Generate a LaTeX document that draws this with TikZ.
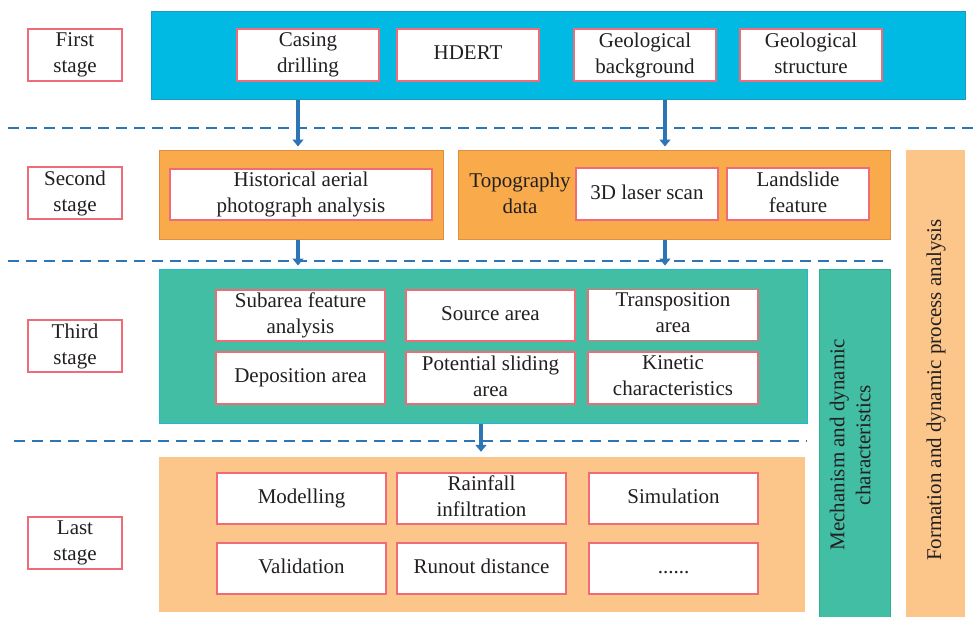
\documentclass[tikz,border=0pt]{standalone}
\usepackage{fontspec}
\setmainfont{Liberation Serif}
\usetikzlibrary{arrows.meta}
\definecolor{bluefill}{HTML}{00BAE4}
\definecolor{blueline}{HTML}{1A9CC0}
\definecolor{orfill}{HTML}{F9AB4C}
\definecolor{orline}{HTML}{DE9040}
\definecolor{tealfill}{HTML}{42BEA4}
\definecolor{tealline}{HTML}{1FB7DA}
\definecolor{tealbar}{HTML}{2AAF8F}
\definecolor{ltor}{HTML}{FCC58A}
\definecolor{pk}{HTML}{EF6B78}
\definecolor{arrc}{HTML}{2E75B6}
\definecolor{txt}{HTML}{231F20}
\newcommand{\mystrut}{\rule[-4pt]{0pt}{17pt}}
\tikzset{
  every node/.style={text=txt, font=\fontsize{21}{26}\selectfont, inner sep=0pt},
  sfix/.style={execute at begin node=\mystrut, execute at end node=\mystrut},
  stg/.style={draw=pk, fill=white, line width=1.2pt, minimum width=94pt, minimum height=52pt, align=center, sfix},
  ib/.style={draw=pk, fill=white, line width=1.2pt, align=center, minimum height=51pt, sfix},
  big/.style={line width=1pt},
  dsh/.style={draw=arrc, line width=1.3pt, dash pattern=on 11pt off 7pt},
  arr/.style={draw=arrc, line width=4pt, -{Triangle[width=11pt,length=7pt]}},
}
\begin{document}
\begin{tikzpicture}[x=1pt,y=-1pt]
\fill[white] (0,0) rectangle (980,616);
\useasboundingbox (0,0) rectangle (980,616);

% dashed separators
\draw[dsh] (8,128) -- (978,128);
\draw[dsh] (8,261) -- (886,261);
\draw[dsh] (14,441) -- (807,441);

% stage labels
\node[stg] (s1) at (75,55) {First\\stage};
\node[stg] (s2) at (75,193) {Second\\stage};
\node[stg] (s3) at (75,346) {Third\\stage};
\node[stg] (s4) at (75,543) {Last\\stage};

% right bars
\node[big, draw=tealbar, fill=tealfill, minimum width=71pt, minimum height=350pt] (tbar) at (854.5,444) {};
\node[rotate=90, align=center, sfix] (ttext) at (852,445) {Mechanism and dynamic\\characteristics};
\node[fill=ltor, minimum width=59pt, minimum height=468pt] (obar) at (935.5,384) {};
\node[rotate=90, sfix] (otext) at (936,390) {Formation and dynamic process analysis};

% first stage
\node[big, draw=blueline, fill=bluefill, minimum width=814pt, minimum height=88pt] (blue) at (558,55) {};
\node[ib, minimum width=142pt, minimum height=52pt] (cd) at (308,55) {Casing\\drilling};
\node[ib, minimum width=142pt, minimum height=52pt] (hd) at (468,55) {HDERT};
\node[ib, minimum width=142pt, minimum height=52pt] (gb) at (645,55) {Geological\\background};
\node[ib, minimum width=142pt, minimum height=52pt] (gs) at (811,55) {Geological\\structure};

% second stage
\node[big, draw=orline, fill=orfill, minimum width=284pt, minimum height=89pt] (o1) at (301,194.5) {};
\node[ib, minimum width=262pt] (ha) at (301,194.5) {Historical aerial\\photograph analysis};
\node[big, draw=orline, fill=orfill, minimum width=432pt, minimum height=89pt] (o2) at (674,194.5) {};
\node[align=center, sfix] (topo) at (520,195) {Topography\\data};
\node[ib, minimum width=142pt, minimum height=52pt] (ls) at (647,194) {3D laser scan};
\node[ib, minimum width=142pt, minimum height=52pt] (lf) at (798,194) {Landslide\\feature};

% third stage
\node[big, draw=tealline, fill=tealfill, minimum width=648pt, minimum height=154pt] (teal) at (483,346) {};
\node[ib, minimum width=169pt] (sf) at (300.5,315.5) {Subarea feature\\analysis};
\node[ib, minimum width=169pt] (sa) at (490.5,315.5) {Source area};
\node[ib, minimum width=170pt] (ta) at (673,315) {Transposition\\area};
\node[ib, minimum width=169pt, minimum height=52pt] (da) at (300.5,378) {Deposition area};
\node[ib, minimum width=169pt, minimum height=52pt] (ps) at (490.5,378) {Potential sliding\\area};
\node[ib, minimum width=170pt, minimum height=52pt] (kc) at (673,378) {Kinetic\\characteristics};

% last stage
\node[fill=ltor, minimum width=646pt, minimum height=155pt] (last) at (482,534.5) {};
\node[ib, minimum width=169pt] (mo) at (301.5,498.5) {Modelling};
\node[ib, minimum width=169pt] (ri) at (481.5,498.5) {Rainfall\\infiltration};
\node[ib, minimum width=169pt] (si) at (673.5,498.5) {Simulation};
\node[ib, minimum width=169pt] (va) at (301.5,568.5) {Validation};
\node[ib, minimum width=169pt] (rd) at (481.5,568.5) {Runout distance};
\node[ib, minimum width=169pt] (dots) at (673.5,568.5) {......};

% arrows
\coordinate (ax1) at (298,0);
\coordinate (ax2) at (665,0);
\coordinate (ax3) at (481,0);
\draw[arr] (blue.south -| ax1) -- ([yshift=3pt]o1.north -| ax1);
\draw[arr] (blue.south -| ax2) -- ([yshift=3pt]o2.north -| ax2);
\draw[arr] (o1.south -| ax1) -- ([yshift=3pt]teal.north -| ax1);
\draw[arr] (o2.south -| ax2) -- ([yshift=3pt]teal.north -| ax2);
\draw[arr] (teal.south -| ax3) -- ([yshift=5pt]last.north -| ax3);
\end{tikzpicture}
\end{document}
